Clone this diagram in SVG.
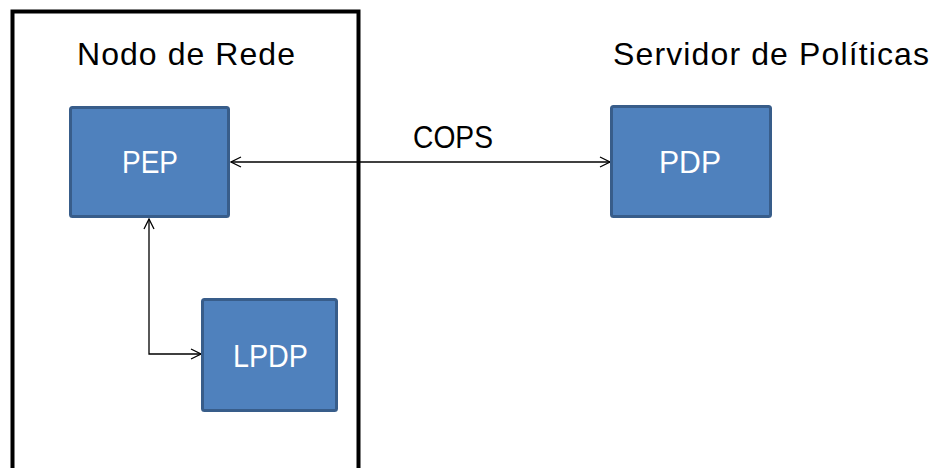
<svg xmlns="http://www.w3.org/2000/svg" width="935" height="468" viewBox="0 0 935 468">
  <style>
    .label { font-family: "Liberation Sans", Arial, sans-serif; font-size: 32px; fill: #000; }
    .node rect { fill: #4f81bd; stroke: #385d8a; stroke-width: 3; }
    .node text { font-family: "Liberation Sans", Arial, sans-serif; font-size: 32px; fill: #fff; }
    .conn { fill: none; stroke: #000; stroke-width: 1.3; }
  </style>
  <defs>
    <marker id="arrow" viewBox="0 0 12 12" refX="11" refY="6" markerWidth="12" markerHeight="12" markerUnits="userSpaceOnUse" orient="auto-start-reverse">
      <path d="M1,1 L11,6 L1,11" fill="none" stroke="#000" stroke-width="1.3"/>
    </marker>
  </defs>

  <rect width="935" height="468" fill="#fff"/>

  <!-- network node enclosure -->
  <g id="nodo-de-rede">
    <rect x="12.5" y="11.5" width="346" height="470" fill="none" stroke="#000" stroke-width="4"/>
    <text class="label" x="77" y="65" textLength="218">Nodo de Rede</text>
  </g>

  <g id="servidor-label">
    <text class="label" x="613" y="65" textLength="316">Servidor de Políticas</text>
  </g>

  <!-- connectors -->
  <g id="connectors">
    <line class="conn" x1="231" y1="162" x2="610" y2="162" marker-start="url(#arrow)" marker-end="url(#arrow)"/>
    <polyline class="conn" points="149,219 149,354 201,354" marker-start="url(#arrow)" marker-end="url(#arrow)"/>
    <text class="label" x="413" y="148" textLength="80" lengthAdjust="spacingAndGlyphs">COPS</text>
  </g>

  <g id="pep" class="node">
    <rect x="70.5" y="107.5" width="158" height="109" rx="2"/>
    <text x="122" y="173" textLength="56" lengthAdjust="spacingAndGlyphs">PEP</text>
  </g>

  <g id="pdp" class="node">
    <rect x="611.5" y="106.5" width="159" height="110" rx="2"/>
    <text x="659" y="173" textLength="62" lengthAdjust="spacingAndGlyphs">PDP</text>
  </g>

  <g id="lpdp" class="node">
    <rect x="202.5" y="299.5" width="134" height="111" rx="2"/>
    <text x="233" y="367" textLength="75" lengthAdjust="spacingAndGlyphs">LPDP</text>
  </g>
</svg>
